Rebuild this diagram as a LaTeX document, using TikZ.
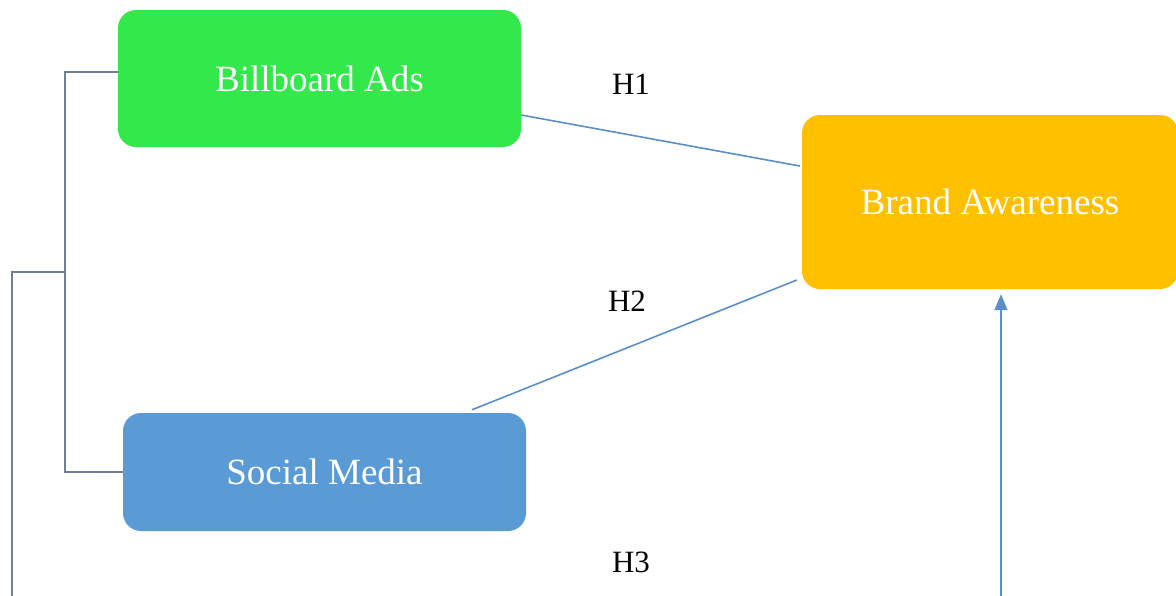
\documentclass[tikz,border=0pt]{standalone}
\usepackage{fontspec}
\setmainfont{Liberation Serif}
\usetikzlibrary{arrows.meta,calc}
\definecolor{boxgreen}{HTML}{33E84B}
\definecolor{boxorange}{HTML}{FFC000}
\definecolor{boxblue}{HTML}{5B9BD5}
\definecolor{linkblue}{HTML}{5B8FC8}
\definecolor{framegray}{HTML}{6F7F95}
\tikzset{
  factor/.style={rounded corners=18pt, inner sep=0pt, text=white,
    font=\fontsize{37}{40}\selectfont},
  hlabel/.style={font=\fontsize{31}{34}\selectfont, text=black},
  link/.style={draw=linkblue, line width=1.6pt},
  frame/.style={draw=framegray, line width=1.6pt},
}
\begin{document}
\begin{tikzpicture}[x=1pt,y=1pt]
\useasboundingbox (0,0) rectangle (1176,-595);
\fill[white] (0,0) rectangle (1176,-595);
\clip (0,0) rectangle (1176,-595);

% variable boxes
\node[factor, fill=boxgreen, minimum width=403pt, minimum height=137pt] (bb) at (319.5,-78.5) {Billboard Ads};
\node[factor, fill=boxorange, minimum width=376pt, minimum height=174pt] (ba) at (990,-202) {Brand Awareness};
\node[factor, fill=boxblue, minimum width=403pt, minimum height=118pt] (sm) at (324.5,-472) {Social Media};

% hypothesis labels
\node[hlabel] (h1) at (631,-84) {H1};
\node[hlabel] (h2) at (627,-301) {H2};
\node[hlabel] (h3) at (631,-562) {H3};

% direct paths
\draw[link] ($(bb.east)+(0,-36.5)$) -- ($(ba.west)+(-2,36)$);
\draw[link] ($(sm.north)+(147.5,3)$) -- ($(ba.west)+(-5,-78)$);

% joint bracket of the two channels
\coordinate (split) at (65,-272);
\draw[frame] ($(bb.west)+(0,6.5)$) -| (split) |- (sm.west);
\draw[frame] (split) -- (12,-272) -- (12,-598) -- (1001,-598);
\draw[link, -{Triangle[length=16pt,width=13pt]}] (1001,-598) -- ($(ba.south)+(11,-5)$);
\end{tikzpicture}
\end{document}
